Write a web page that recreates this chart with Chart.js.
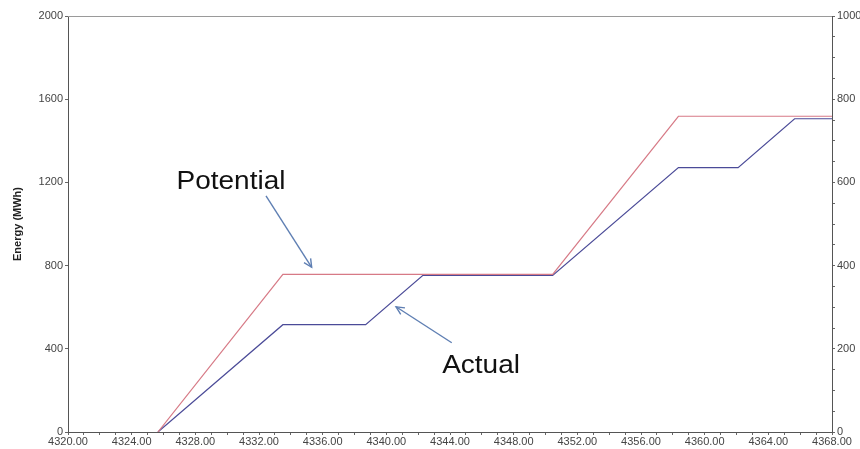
<!DOCTYPE html>
<html>
<head>
<meta charset="utf-8">
<script src="https://cdn.jsdelivr.net/npm/chart.js@4.4.1/dist/chart.umd.min.js"></script>
<style>
  html,body{margin:0;padding:0;background:#fff;}
  #wrap{width:860px;height:449px;}
</style>
</head>
<body>
<div id="wrap"><canvas id="c" width="860" height="449"></canvas></div>
<script>
// hours (x) and cumulative energy in MWh (y)
var POTENTIAL_X = [4325.65, 4333.5, 4350.45, 4358.35, 4368];
var POTENTIAL_Y = [0, 758, 758, 1518, 1518];
var ACTUAL_X = [4325.65, 4333.5, 4338.7, 4342.3, 4350.45, 4358.35, 4362.1, 4365.65, 4368];
var ACTUAL_Y = [0, 516, 516, 753, 753, 1271, 1271, 1506, 1506];

var X_MIN = 4320, X_MAX = 4368;
var Y_MAX = 2000, Y2_MAX = 1000;

// callouts, in data units: label position and arrow from -> to
var CALLOUTS = [
  {text:'Potential', x:4330.24, y:1202, fromX:4332.44, fromY:1135, toX:4335.31, toY:792},
  {text:'Actual',    x:4345.95, y:317,  fromX:4344.11, fromY:429,  toX:4340.61, toY:602}
];

function pts(xs, ys){ return xs.map(function(x,i){ return {x:x, y:ys[i]}; }); }

var TICK_FONT = {family:'"Liberation Sans", Arial, sans-serif', size:11};
var TICK_COLOR = '#444';

var framePlugin = {
  id:'frame',
  beforeDraw:function(chart){
    var c = chart.ctx;
    c.save(); c.fillStyle = '#fff'; c.fillRect(0,0,chart.width,chart.height); c.restore();
  },
  afterDraw:function(chart){
    var a = chart.chartArea, c = chart.ctx;
    c.save();
    c.strokeStyle = '#9a9a9a'; c.lineWidth = 1;
    c.beginPath(); c.moveTo(a.left, a.top + 0.5); c.lineTo(a.right, a.top + 0.5); c.stroke();
    c.restore();
  }
};

var calloutPlugin = {
  id:'callouts',
  afterDatasetsDraw:function(chart){
    var c = chart.ctx, sx = chart.scales.x, sy = chart.scales.y;
    c.save();
    CALLOUTS.forEach(function(o){
      var x1 = sx.getPixelForValue(o.fromX), y1 = sy.getPixelForValue(o.fromY);
      var x2 = sx.getPixelForValue(o.toX),   y2 = sy.getPixelForValue(o.toY);
      c.strokeStyle = '#5f7fb3'; c.lineWidth = 1.4;
      c.beginPath(); c.moveTo(x1,y1); c.lineTo(x2,y2); c.stroke();
      var ang = Math.atan2(y2-y1, x2-x1), L = 9, sp = 0.45;
      c.beginPath();
      c.moveTo(x2 - L*Math.cos(ang-sp), y2 - L*Math.sin(ang-sp));
      c.lineTo(x2, y2);
      c.lineTo(x2 - L*Math.cos(ang+sp), y2 - L*Math.sin(ang+sp));
      c.stroke();

      var tx = sx.getPixelForValue(o.x), ty = sy.getPixelForValue(o.y);
      c.save();
      c.translate(tx, ty); c.scale(1.12, 1);
      c.fillStyle = '#111';
      c.font = '25px "Liberation Sans", Arial, sans-serif';
      c.textAlign = 'center'; c.textBaseline = 'middle';
      c.fillText(o.text, 0, 0);
      c.restore();
    });
    c.restore();
  }
};

new Chart(document.getElementById('c'), {
  type:'line',
  data:{
    datasets:[
      {label:'Potential', data:pts(POTENTIAL_X, POTENTIAL_Y), borderColor:'#d77a86', borderWidth:1.2,
       pointRadius:0, tension:0, yAxisID:'y'},
      {label:'Actual', data:pts(ACTUAL_X, ACTUAL_Y), borderColor:'#4b4b98', borderWidth:1.2,
       pointRadius:0, tension:0, yAxisID:'y'}
    ]
  },
  options:{
    responsive:false, animation:false, devicePixelRatio:1,
    layout:{padding:{top:16, left:0, right:0, bottom:0}},
    plugins:{legend:{display:false}, tooltip:{enabled:false}},
    scales:{
      x:{
        type:'linear', min:X_MIN, max:X_MAX,
        ticks:{stepSize:1, autoSkip:false, maxRotation:0, padding:0, font:TICK_FONT, color:TICK_COLOR,
          callback:function(v){ return (Math.round(v) % 4 === 0) ? Number(v).toFixed(2) : ''; }},
        grid:{drawOnChartArea:false, tickLength:3, tickColor:'#666'},
        border:{color:'#555'},
        afterFit:function(s){ s.height = 17; }
      },
      y:{
        position:'left', min:0, max:Y_MAX,
        ticks:{stepSize:400, padding:2, font:TICK_FONT, color:TICK_COLOR,
          callback:function(v){ return String(v); }},
        grid:{drawOnChartArea:false, tickLength:3, tickColor:'#666'},
        border:{color:'#555'},
        title:{display:true, text:'Energy (MWh)', color:'#222', padding:{top:11, bottom:0},
          font:{family:'"Liberation Sans", Arial, sans-serif', size:11, weight:'bold'}},
        afterFit:function(s){ s.width = 68; }
      },
      y2:{
        position:'right', min:0, max:Y2_MAX,
        ticks:{stepSize:50, autoSkip:false, padding:2, font:TICK_FONT, color:TICK_COLOR,
          callback:function(v){ return (Math.round(v) % 200 === 0) ? String(v) : ''; }},
        grid:{drawOnChartArea:false, tickLength:3, tickColor:'#666'},
        border:{color:'#555'},
        afterFit:function(s){ s.width = 28; }
      }
    }
  },
  plugins:[framePlugin, calloutPlugin]
});
</script>
</body>
</html>
